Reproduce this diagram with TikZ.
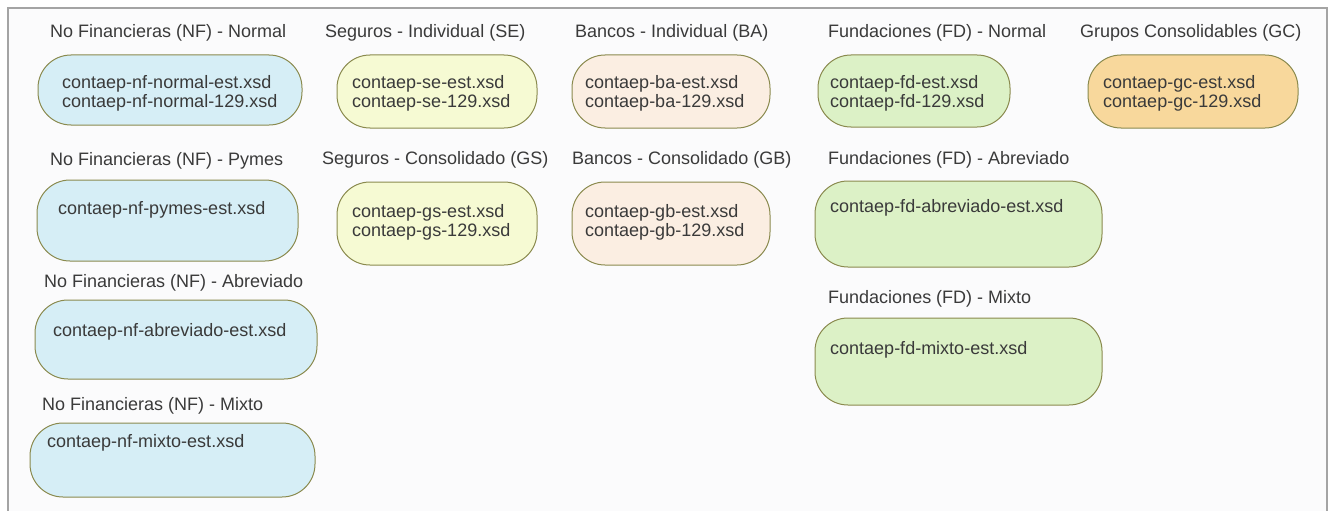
\documentclass[tikz,border=0pt]{standalone}
\usepackage{fontspec}
\setmainfont{Liberation Sans}
\definecolor{framebg}{HTML}{FBFBFC}
\definecolor{frameln}{HTML}{A4A4A4}
\definecolor{boxln}{HTML}{8A8A4E}
\definecolor{txt}{HTML}{3A3A3A}
\definecolor{nfcol}{HTML}{D6EEF6}
\definecolor{secol}{HTML}{F6FAD3}
\definecolor{bacol}{HTML}{FBEEE2}
\definecolor{fdcol}{HTML}{DCF1C6}
\definecolor{gccol}{HTML}{F8D89C}
\begin{document}
\begin{tikzpicture}[x=1pt,y=-1pt,
  filebox/.style={draw=boxln, line width=1pt, rounded corners=33pt, inner sep=0pt},
  ttl/.style={anchor=west, inner sep=0pt, text=txt, font=\fontsize{18}{20}\selectfont},
  fn/.style={anchor=west, inner sep=0pt, text=txt, align=left, font=\fontsize{18}{19}\selectfont}]
\useasboundingbox (0,0) rectangle (1333,511);
\clip (0,0) rectangle (1333,511);
\draw[frameln, fill=framebg, line width=1.2pt] (8,540) -- (8,8) -- (1327,8) -- (1327,540);
% column NF
\node[ttl] (tnfN) at (50,33) {No Financieras (NF) - Normal};
\node[filebox, fill=nfcol, minimum width=264pt, minimum height=70pt] (bnfN) at (170,90) {};
\node[fn] (fnfN) at (62,93) {contaep-nf-normal-est.xsd\\contaep-nf-normal-129.xsd};
\node[ttl] (tnfP) at (50,161) {No Financieras (NF) - Pymes};
\node[filebox, fill=nfcol, minimum width=261pt, minimum height=81pt] (bnfP) at (167.5,220.5) {};
\node[fn] (fnfP) at (58,210) {contaep-nf-pymes-est.xsd};
\node[ttl] (tnfA) at (44,283) {No Financieras (NF) - Abreviado};
\node[filebox, fill=nfcol, minimum width=282pt, minimum height=79pt] (bnfA) at (176,339.5) {};
\node[fn] (fnfA) at (53,332) {contaep-nf-abreviado-est.xsd};
\node[ttl] (tnfM) at (42,406) {No Financieras (NF) - Mixto};
\node[filebox, fill=nfcol, minimum width=285pt, minimum height=74pt] (bnfM) at (172.5,460) {};
\node[fn] (fnfM) at (47,443) {contaep-nf-mixto-est.xsd};
% column Seguros
\node[ttl] (tse) at (325,33) {Seguros - Individual (SE)};
\node[filebox, fill=secol, minimum width=200pt, minimum height=73pt] (bse) at (437,91.5) {};
\node[fn] (fse) at (352,93) {contaep-se-est.xsd\\contaep-se-129.xsd};
\node[ttl] (tgs) at (322,160) {Seguros - Consolidado (GS)};
\node[filebox, fill=secol, minimum width=200pt, minimum height=83pt] (bgs) at (437,223.5) {};
\node[fn] (fgs) at (352,222) {contaep-gs-est.xsd\\contaep-gs-129.xsd};
% column Bancos
\node[ttl] (tba) at (575,33) {Bancos - Individual (BA)};
\node[filebox, fill=bacol, minimum width=198pt, minimum height=73pt] (bba) at (671,91.5) {};
\node[fn] (fba) at (585,93) {contaep-ba-est.xsd\\contaep-ba-129.xsd};
\node[ttl] (tgb) at (572,160) {Bancos - Consolidado (GB)};
\node[filebox, fill=bacol, minimum width=198pt, minimum height=83pt] (bgb) at (671,223.5) {};
\node[fn] (fgb) at (585,222) {contaep-gb-est.xsd\\contaep-gb-129.xsd};
% column Fundaciones
\node[ttl] (tfdN) at (828,33) {Fundaciones (FD) - Normal};
\node[filebox, fill=fdcol, minimum width=192pt, minimum height=72pt] (bfdN) at (914,91) {};
\node[fn] (ffdN) at (830,93) {contaep-fd-est.xsd\\contaep-fd-129.xsd};
\node[ttl] (tfdA) at (828,160) {Fundaciones (FD) - Abreviado};
\node[filebox, fill=fdcol, minimum width=287pt, minimum height=86pt] (bfdA) at (958.5,224) {};
\node[fn] (ffdA) at (830,208) {contaep-fd-abreviado-est.xsd};
\node[ttl] (tfdM) at (828,299) {Fundaciones (FD) - Mixto};
\node[filebox, fill=fdcol, minimum width=287pt, minimum height=87pt] (bfdM) at (958.5,361.5) {};
\node[fn] (ffdM) at (830,350) {contaep-fd-mixto-est.xsd};
% Grupos
\node[ttl] (tgc) at (1080,33) {Grupos Consolidables (GC)};
\node[filebox, fill=gccol, minimum width=210pt, minimum height=73pt] (bgc) at (1193,91.5) {};
\node[fn] (fgc) at (1103,93) {contaep-gc-est.xsd\\contaep-gc-129.xsd};
\end{tikzpicture}
\end{document}
